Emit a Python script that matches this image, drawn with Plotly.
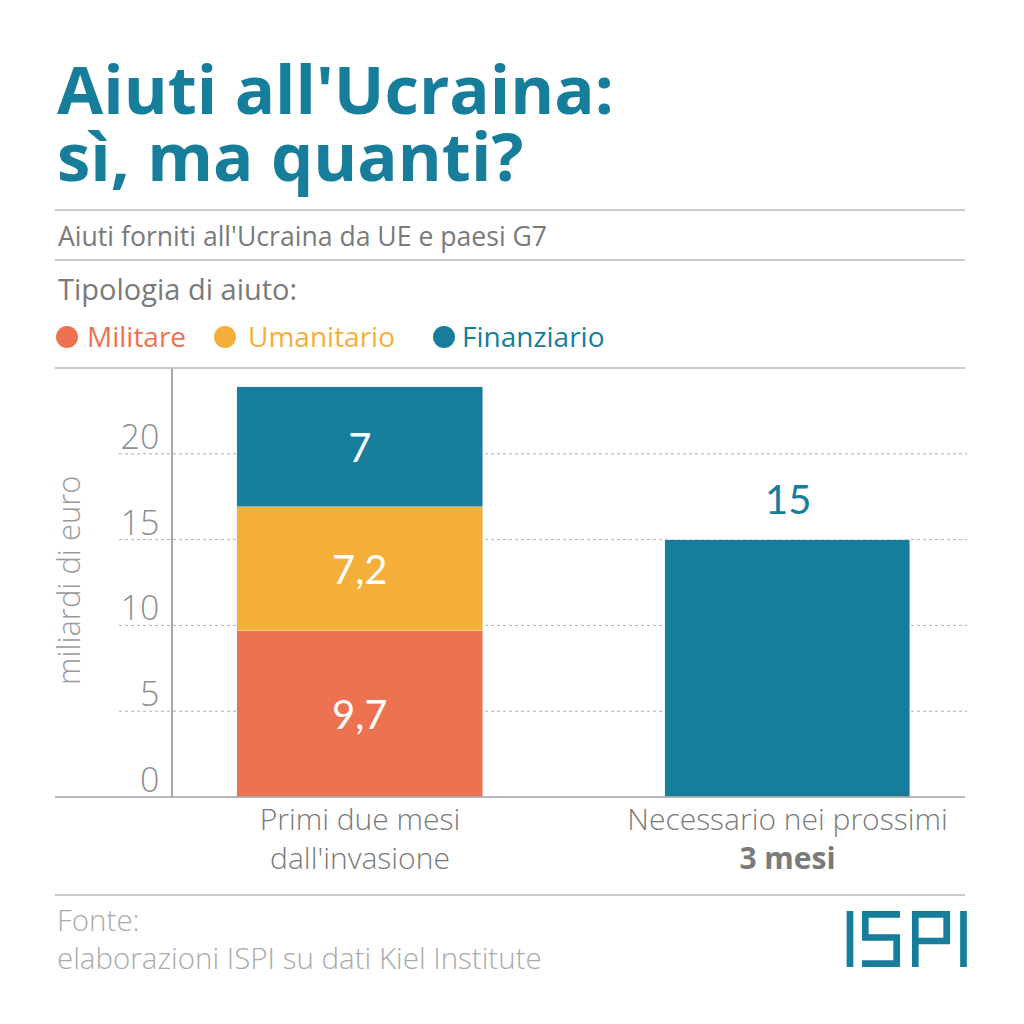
import plotly.graph_objects as go

# ---- data ----
categories = ["Primi due mesi<br>dall'invasione", "Necessario nei prossimi<br><b>3 mesi</b>"]
militare = [9.7]
umanitario = [7.2]
finanziario = [7, 15]
series_names = ["Militare", "Umanitario", "Finanziario"]
y_ticks = [0, 5, 10, 15, 20]

# ---- style ----
C_MIL = "#ec7251"
C_UMA = "#f4ae3a"
C_FIN = "#167e9a"
GRAY = "#7a7a7a"
LGRAY = "#9a9a9a"
RULE = "#b8b8b8"
FONT = "Open Sans"
NUMFONT = "Lato"

OFF = 8  # page body margin offset
W, H = 1024 - OFF, 1024 - OFF
L, R, T, B = 173, 965, 368, 797  # plot area in reference pixels


def px(x):
    return (x - L) / (R - L)


def py(y):
    return (B - y) / (B - T)


def fmt(v):
    return ("%g" % v).replace(".", ",")


fig = go.Figure()
fig.add_trace(go.Bar(
    x=categories[:1], y=militare, name=series_names[0], marker_color=C_MIL,
    text=[fmt(v) for v in militare], textposition="inside", insidetextanchor="middle",
    textfont=dict(color="white", size=40, family=NUMFONT), width=0.575,
    showlegend=False, hoverinfo="skip"))
fig.add_trace(go.Bar(
    x=categories[:1], y=umanitario, name=series_names[1], marker_color=C_UMA,
    text=[fmt(v) for v in umanitario], textposition="inside", insidetextanchor="middle",
    textfont=dict(color="white", size=40, family=NUMFONT), width=0.575,
    showlegend=False, hoverinfo="skip"))
fig.add_trace(go.Bar(
    x=categories, y=finanziario, name=series_names[2], marker_color=C_FIN,
    text=[fmt(finanziario[0]), ""], textposition="inside",
    insidetextanchor="middle",
    textfont=dict(color="white", size=40, family=NUMFONT), width=0.575,
    showlegend=False, hoverinfo="skip"))

shapes = []
# horizontal rules
for yy, col in [(210, RULE), (260, RULE), (368, RULE), (797, "#a0a0a0"), (895, RULE)]:
    shapes.append(dict(type="line", xref="paper", yref="paper", x0=px(55), x1=px(965),
                       y0=py(yy), y1=py(yy), line=dict(color=col, width=1.6), layer="above"))
# dotted gridlines
for t in y_ticks[1:]:
    shapes.append(dict(type="line", xref="paper", yref="y", x0=px(119), x1=px(967),
                       y0=t, y1=t, line=dict(color="#b0b0b0", width=1, dash="dot"), layer="below"))
# legend dots
legend_items = [(67, 87, C_MIL), (225, 248, C_UMA), (444, 462, C_FIN)]
for cx, tx, col in legend_items:
    r = 11
    shapes.append(dict(type="circle", xref="paper", yref="paper",
                       x0=px(cx - r), x1=px(cx + r), y0=py(337 + r), y1=py(337 - r),
                       fillcolor=col, line=dict(width=0)))


# ISPI logo drawn as stroked paths
def P(pts):
    return " ".join(("M" if i == 0 else "L") + " %f,%f" % (px(x), py(y)) for i, (x, y) in enumerate(pts))


logo_paths = [
    [(850, 911), (850, 967)],
    [(900, 914.3), (865.3, 914.3), (865.3, 937.5), (896.7, 937.5), (896.7, 963.7), (862, 963.7)],
    [(915.3, 967), (915.3, 914.3), (946.7, 914.3), (946.7, 941), (915.3, 941)],
    [(963.5, 911), (963.5, 967)],
]
for pts in logo_paths:
    shapes.append(dict(type="path", xref="paper", yref="paper", path=P(pts),
                       line=dict(color=C_FIN, width=6.7)))

ann = []
ann.append(dict(text="<b>Aiuti all'Ucraina:</b>", x=px(55), y=py(88), xanchor="left", yanchor="middle",
                font=dict(size=67, color=C_FIN, family=FONT)))
ann.append(dict(text="<b>sì, ma quanti?</b>", x=px(55), y=py(155), xanchor="left", yanchor="middle",
                font=dict(size=67, color=C_FIN, family=FONT)))
ann.append(dict(text="Aiuti forniti all'Ucraina da UE e paesi G7", x=px(56), y=py(236),
                xanchor="left", yanchor="middle", font=dict(size=26.6, color=GRAY, family=FONT)))
ann.append(dict(text="Tipologia di aiuto:", x=px(56), y=py(289),
                xanchor="left", yanchor="middle", font=dict(size=29, color=GRAY, family=FONT)))
for (cx, tx, col), name in zip(legend_items, series_names):
    ann.append(dict(text=name, x=px(tx - 2), y=py(336), xanchor="left", yanchor="middle",
                    font=dict(size=28, color=col, family=FONT)))
ann.append(dict(text="Fonte:<br>elaborazioni ISPI su dati Kiel Institute", x=px(55), y=py(938),
                xanchor="left", yanchor="middle", align="left",
                font=dict(size=29.5, color="#aaaaaa", family=FONT, weight=300)))
ann.append(dict(text="miliardi di euro", x=px(68), y=py(580), xanchor="center", yanchor="middle",
                textangle=-90, font=dict(size=31, color=LGRAY, family=FONT, weight=300)))
# value label above the second bar, anchored to its data value
ann.append(dict(text=fmt(finanziario[1]), x=categories[1], y=finanziario[1], xref="x", yref="y",
                yshift=41, xanchor="center", yanchor="middle",
                font=dict(size=40, color=C_FIN, family=NUMFONT)))
for a in ann:
    a.setdefault("xref", "paper")
    a.setdefault("yref", "paper")
    a["showarrow"] = False

fig.update_layout(
    width=W, height=H,
    margin=dict(l=L - OFF, r=W - (R - OFF), t=T - OFF, b=H - (B - OFF), pad=0),
    paper_bgcolor="white", plot_bgcolor="white",
    barmode="stack", bargap=0,
    shapes=shapes, annotations=ann,
    font=dict(family=FONT, color=GRAY),
    showlegend=False,
)
fig.update_xaxes(range=[-0.4374, 1.4152], showgrid=False, showline=False, zeroline=False,
                 ticks="", ticklabelstandoff=2,
                 tickfont=dict(size=30, color=GRAY, family=FONT, weight=300), fixedrange=True)
fig.update_yaxes(range=[0, 25], tickvals=y_ticks, showgrid=False, zeroline=False,
                 showline=True, linecolor="#a8a8a8", linewidth=1.6,
                 ticks="", ticklabelshift=-17, ticklabelstandoff=5,
                 tickfont=dict(size=34, color="#8f8f8f", family=FONT, weight=300), fixedrange=True)

fig.write_html("out.html")
